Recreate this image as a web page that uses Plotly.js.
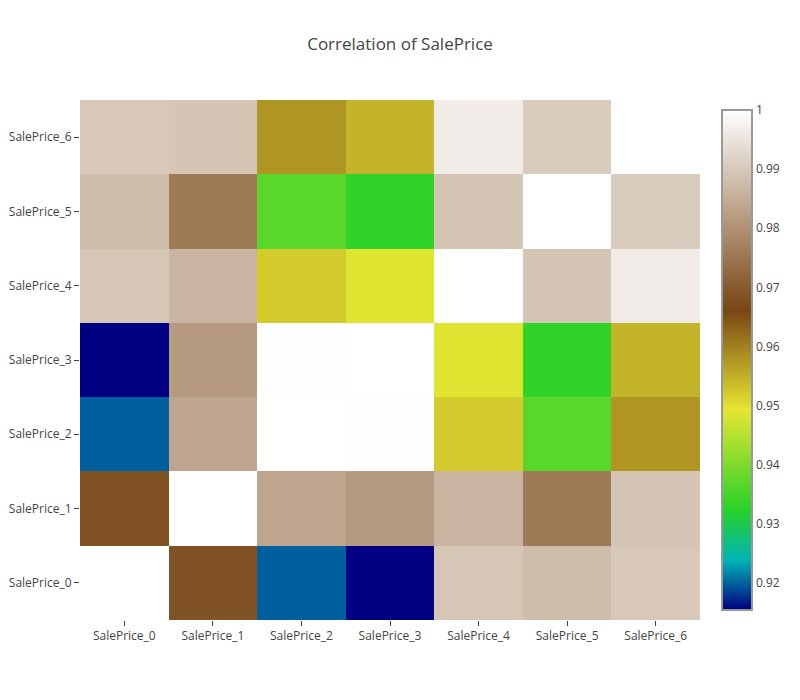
<!DOCTYPE html>
<html>
<head>
<meta charset="utf-8">
<script src="https://cdn.plot.ly/plotly-3.0.1.min.js"></script>
<style>html,body{margin:0;padding:0;background:#fff;}</style>
</head>
<body>
<div id="chart" style="width:800px;height:700px;"></div>
<script>
const labels = ["SalePrice_0","SalePrice_1","SalePrice_2","SalePrice_3","SalePrice_4","SalePrice_5","SalePrice_6"];
const row0 = [1.0000, 0.9684, 0.9199, 0.9154, 0.9895, 0.9880, 0.9900];
const row1 = [0.9684, 1.0000, 0.9837, 0.9815, 0.9863, 0.9757, 0.9893];
const row2 = [0.9199, 0.9837, 1.0000, 0.9998, 0.9520, 0.9368, 0.9577];
const row3 = [0.9154, 0.9815, 0.9998, 1.0000, 0.9487, 0.9330, 0.9545];
const row4 = [0.9895, 0.9863, 0.9520, 0.9487, 1.0000, 0.9894, 0.9965];
const row5 = [0.9880, 0.9757, 0.9368, 0.9330, 0.9894, 1.0000, 0.9905];
const row6 = [0.9900, 0.9893, 0.9577, 0.9545, 0.9965, 0.9905, 1.0000];
const chartTitle = "Correlation of SalePrice";

const earth = [[0,'rgb(0,0,130)'],[0.1,'rgb(0,180,180)'],[0.2,'rgb(40,210,40)'],[0.4,'rgb(230,230,50)'],[0.6,'rgb(120,70,20)'],[1,'rgb(255,255,255)']];

const trace = {
  type: 'heatmap',
  x: labels,
  y: labels,
  z: [row0,row1,row2,row3,row4,row5,row6],
  colorscale: earth,
  showscale: true,
  colorbar: {outlinecolor:'#999', outlinewidth:2}
};
const layout = {
  width: 800, height: 700,
  title: {text: chartTitle, font:{size:17, color:'#444'}},
  margin: {l:80, r:100, t:100, b:80},
  xaxis: {ticks:'outside', ticklen:5, tickcolor:'#444'},
  yaxis: {ticks:'outside', ticklen:5, tickcolor:'#444'},
  font: {family:'"Open Sans", verdana, arial, sans-serif', size:12, color:'#444'},
  paper_bgcolor:'#fff', plot_bgcolor:'#fff'
};
Plotly.newPlot('chart', [trace], layout, {displayModeBar:false});
</script>
</body>
</html>
